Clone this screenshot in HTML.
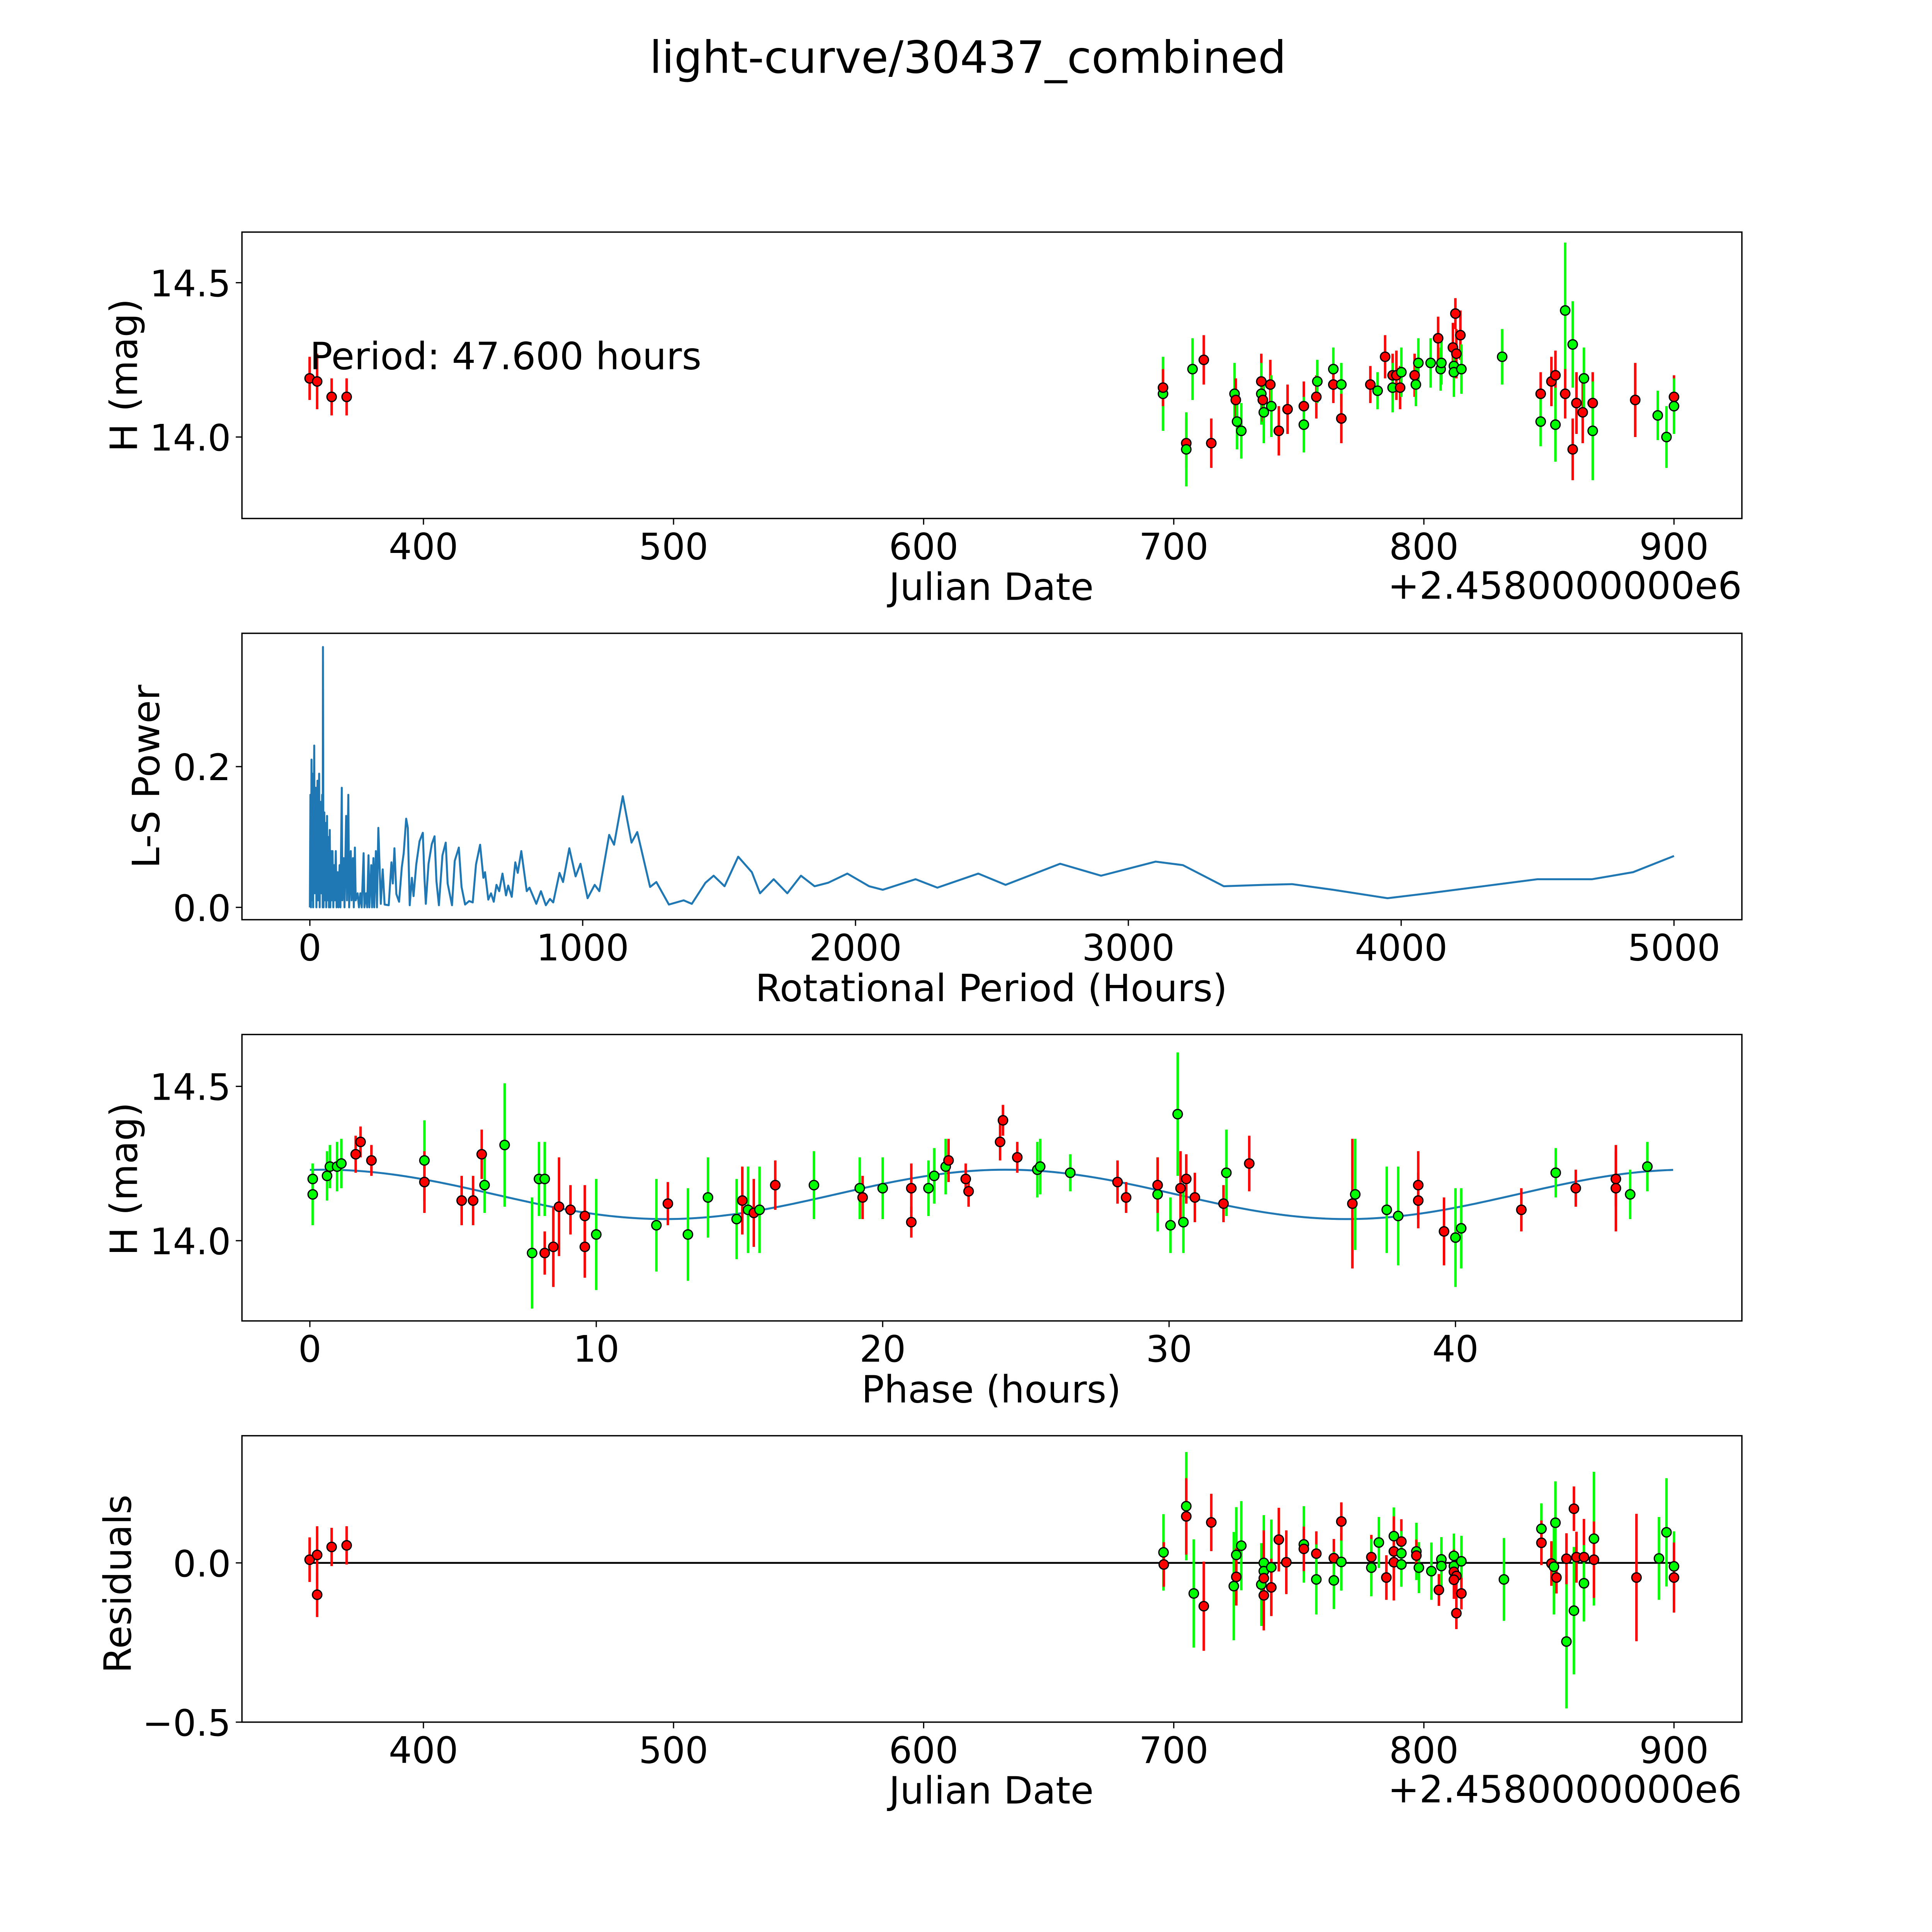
<!DOCTYPE html>
<html><head><meta charset="utf-8">
<style>
html,body{margin:0;padding:0;background:#fff;overflow:hidden;width:100%;height:100%;}
svg{display:block;position:absolute;left:0;top:0;width:100vw;height:100vh;font-family:"DejaVu Sans","Liberation Sans",sans-serif;}
</style></head>
<body>
<svg id="fig" viewBox="0 0 1565 1565" preserveAspectRatio="none" xmlns="http://www.w3.org/2000/svg">
<rect width="1565" height="1565" fill="#fff"/>
<text x="784" y="59" font-size="36" text-anchor="middle">light-curve/30437_combined</text>
<g id="g"></g>
</svg>
<script>
// observations: Julian date offset (days), magnitude, error, filter colour
const obsDates = [354.5,357.5,363.3,369.3,695.7,695.7,705,705,707.5,712,715,724.3,724.8,725.3,727,735,735,735.6,736,738.6,739,742,745.5,752,752,757,757.4,763.8,763.8,767,767,778.6,781.5,784.5,787.5,787.5,789,790.5,791,796.3,796.8,797.8,802.7,805.7,806.7,807,811.6,812,812.6,812,813,814.6,815,831.3,846.7,846.7,851,852.6,852.6,856.5,856.5,859.5,859.5,861,863.5,864,867.5,867.5,884.5,893.5,897,900,900];
const obsMags = [14.19,14.18,14.13,14.13,14.14,14.16,13.98,13.96,14.22,14.25,13.98,14.14,14.12,14.05,14.02,14.18,14.14,14.12,14.08,14.17,14.10,14.02,14.09,14.10,14.04,14.13,14.18,14.22,14.17,14.17,14.06,14.17,14.15,14.26,14.20,14.16,14.20,14.16,14.21,14.20,14.17,14.24,14.24,14.32,14.22,14.24,14.29,14.23,14.40,14.21,14.27,14.33,14.22,14.26,14.14,14.05,14.18,14.20,14.04,14.41,14.14,14.30,13.96,14.11,14.08,14.19,14.11,14.02,14.12,14.07,14.00,14.13,14.10];
const obsErrs = [0.07,0.09,0.06,0.06,0.12,0.06,0.08,0.12,0.10,0.08,0.08,0.10,0.07,0.09,0.09,0.09,0.10,0.07,0.10,0.08,0.10,0.08,0.08,0.08,0.09,0.07,0.07,0.07,0.06,0.07,0.08,0.06,0.06,0.07,0.07,0.08,0.08,0.07,0.08,0.07,0.07,0.08,0.08,0.07,0.07,0.07,0.08,0.07,0.05,0.08,0.08,0.08,0.08,0.09,0.07,0.08,0.08,0.08,0.12,0.22,0.08,0.14,0.10,0.10,0.10,0.10,0.10,0.16,0.12,0.08,0.10,0.07,0.09];
const obsColors = ['r','r','r','r','g','r','r','g','g','r','r','g','r','g','g','r','g','r','g','r','g','r','r','r','g','r','g','g','r','g','r','r','g','r','r','g','r','r','g','r','g','g','g','r','g','g','r','g','r','g','r','r','g','g','r','g','r','r','g','g','r','g','r','r','r','g','r','g','r','g','g','r','g'];
// folded light curve (phase hours, magnitude, error, filter)
const phPhases = [0.1,0.1,0.6,0.7,0.95,1.1,1.6,1.77,2.15,4.0,4.0,5.3,5.7,6.0,6.1,6.8,7.76,8.0,8.2,8.2,8.5,8.7,9.1,9.6,9.6,10.0,12.1,12.5,13.2,13.9,14.9,15.1,15.3,15.5,15.7,16.25,17.6,19.2,19.3,20.0,21.0,21.0,21.6,21.8,22.2,22.3,22.9,23.0,24.1,24.2,24.7,25.4,25.5,26.55,28.2,28.5,29.6,29.6,30.05,30.3,30.4,30.5,30.6,30.9,31.9,32.0,32.8,36.4,36.5,37.6,38.0,38.7,38.7,39.6,40.0,40.2,42.3,43.5,44.2,45.6,45.6,46.1,46.7];
const phMags = [14.20,14.15,14.21,14.24,14.24,14.25,14.28,14.32,14.26,14.26,14.19,14.13,14.13,14.28,14.18,14.31,13.96,14.20,14.20,13.96,13.98,14.11,14.10,14.08,13.98,14.02,14.05,14.12,14.02,14.14,14.07,14.13,14.10,14.09,14.10,14.18,14.18,14.17,14.14,14.17,14.17,14.06,14.17,14.21,14.24,14.26,14.20,14.16,14.32,14.39,14.27,14.23,14.24,14.22,14.19,14.14,14.15,14.18,14.05,14.41,14.17,14.06,14.20,14.14,14.12,14.22,14.25,14.12,14.15,14.10,14.08,14.18,14.13,14.03,14.01,14.04,14.10,14.22,14.17,14.20,14.17,14.15,14.24];
const phErrs = [0.05,0.10,0.08,0.07,0.08,0.08,0.06,0.05,0.05,0.13,0.10,0.08,0.08,0.08,0.09,0.20,0.18,0.12,0.12,0.07,0.13,0.16,0.08,0.10,0.10,0.18,0.15,0.07,0.15,0.13,0.13,0.11,0.14,0.11,0.14,0.08,0.11,0.10,0.07,0.10,0.08,0.05,0.09,0.09,0.09,0.07,0.05,0.05,0.06,0.05,0.05,0.09,0.09,0.06,0.07,0.05,0.12,0.09,0.09,0.20,0.12,0.10,0.08,0.08,0.06,0.14,0.09,0.21,0.18,0.14,0.16,0.11,0.09,0.11,0.16,0.13,0.07,0.08,0.06,0.09,0.14,0.08,0.08];
const phColors = ['g','g','g','g','g','g','r','r','r','g','r','r','r','r','g','g','g','g','g','r','r','r','r','r','r','g','g','r','g','g','g','r','g','r','g','r','g','g','r','g','r','r','g','g','g','r','r','r','r','r','r','g','g','g','r','r','g','r','g','g','r','g','r','r','r','g','r','r','g','g','g','r','r','r','g','g','r','g','r','r','r','g','g'];
// residuals (date, residual, error, filter)
const resDates = [354.5,357.5,357.5,363.3,369.3,695.9,696,705,705,708,712,715,724,725,725,727,735,736,736,736,736,739,739,742,745,752,752,757,757,764,764,767,767,779,779,782,785,788,788,788,791,791,791,797,797,798,803,806,807,807,812,812,812,813,812,813,815,815,832,847,847,851,852,852.6,853,857,857,860,860,861,864,864,868,868,885,894,897,900,900];
const resVals = [0.01,0.025,-0.10,0.05,0.055,0.033,-0.005,0.178,0.146,-0.096,-0.136,0.127,-0.073,0.025,-0.044,0.054,-0.068,0,-0.026,-0.048,-0.102,-0.014,-0.077,0.073,0.002,0.058,0.044,0.029,-0.052,0.015,-0.055,0.003,0.13,0.018,-0.015,0.064,-0.046,0.084,0.036,0.002,0.067,0.030,-0.005,0.036,0.023,-0.015,-0.026,-0.085,0.011,-0.01,0.022,-0.01,-0.028,-0.041,-0.053,-0.158,0.005,-0.096,-0.052,0.107,0.063,-0.002,-0.012,0.126,-0.046,-0.247,0.013,0.17,-0.15,0.018,0.018,-0.064,0.076,0.01,-0.046,0.014,0.096,-0.011,-0.046];
const resErrs = [0.07,0.09,0.07,0.06,0.06,0.12,0.07,0.17,0.12,0.17,0.14,0.09,0.17,0.15,0.09,0.14,0.13,0.15,0.12,0.15,0.11,0.15,0.09,0.10,0.10,0.12,0.07,0.07,0.11,0.06,0.09,0.09,0.06,0.07,0.09,0.08,0.07,0.09,0.11,0.12,0.07,0.07,0.07,0.09,0.05,0.08,0.09,0.05,0.07,0.07,0.07,0.09,0.07,0.07,0.06,0.05,0.08,0.05,0.13,0.08,0.07,0.07,0.15,0.13,0.05,0.21,0.08,0.07,0.20,0.08,0.12,0.12,0.21,0.12,0.20,0.13,0.17,0.11,0.11];
const resColors = ['r','r','r','r','r','g','r','g','r','g','r','r','g','g','r','g','g','g','g','r','r','g','r','r','r','g','r','r','g','r','g','g','r','r','g','g','r','g','r','r','r','g','g','g','r','g','g','r','g','g','g','g','r','r','r','r','g','r','g','g','r','r','g','g','r','g','r','r','g','r','r','g','g','r','r','g','g','g','r'];
// fit model
const period = 47.6, modelMean = 14.15, modelAmp = 0.08, modelPeak = 0.5;
// Lomb-Scargle periodogram (period hours, power)
const lsPeriods = [0,2,4,6,8,10,12,16,18,22,24,28,30,34,36,40,42,45,47,48,50,53,55,58,60,63,65,68,70,73,75,78,80,83,86,89,92,95,98,102,105,109,112,117,119,124,127,133,136,141,144,150,153,158,161,165,168,175,180,185,190,197,200,206,210,215,218,225,228,233,236,242,246,251,260,267,274,289,299,304,310,317,327,337,344,353,359,366,374,380,390,402,414,420,425,435,447,457,464,473,486,498,505,521,531,546,556,569,584,597,609,624,636,642,654,664,674,684,694,706,719,727,740,753,762,775,795,805,830,847,865,880,892,915,928,951,974,992,1018,1044,1061,1097,1115,1147,1179,1200,1247,1270,1316,1370,1400,1450,1480,1520,1570,1620,1650,1700,1750,1800,1850,1900,1970,2050,2100,2220,2300,2450,2550,2750,2900,3100,3200,3350,3500,3600,3750,3950,4100,4300,4500,4700,4850,5000];
const lsPower = [0,0.16,0,0.21,0.01,0.19,0,0.23,0.02,0.17,0,0.18,0.01,0.19,0,0.15,0.02,0.16,0,0.37,0,0.135,0.01,0.12,0,0.13,0.01,0.1,0,0.11,0,0.08,0.01,0.08,0,0.06,0.01,0.08,0,0.05,0,0.06,0,0.17,0.01,0.07,0,0.13,0.01,0.16,0,0.08,0.01,0.07,0,0.085,0.01,0.02,0,0.02,0,0.077,0,0.02,0,0.074,0,0.06,0,0.07,0,0.08,0,0.113,0.005,0.054,0.004,0.003,0.064,0.034,0.084,0.019,0.008,0.057,0.077,0.126,0.113,0.003,0.042,0.016,0.061,0.094,0.106,0.042,0.005,0.062,0.09,0.101,0.037,0.003,0.074,0.092,0.034,0.003,0.066,0.085,0.029,0.004,0.009,0.007,0.061,0.089,0.042,0.05,0.011,0.02,0.008,0.032,0.023,0.048,0.017,0.031,0.015,0.064,0.049,0.08,0.023,0.028,0.005,0.023,0.003,0.012,0.007,0.049,0.036,0.084,0.044,0.062,0.013,0.032,0.023,0.103,0.089,0.158,0.092,0.107,0.029,0.036,0.004,0.01,0.005,0.035,0.045,0.03,0.072,0.05,0.02,0.04,0.02,0.045,0.03,0.035,0.048,0.03,0.025,0.04,0.028,0.048,0.032,0.062,0.045,0.065,0.06,0.03,0.032,0.033,0.025,0.013,0.02,0.03,0.04,0.04,0.05,0.073];
const dateTicks = [400,500,600,700,800,900];
const lsTicks = [0,1000,2000,3000,4000,5000];
const phaseTicks = [0,10,20,30,40];

const NS='http://www.w3.org/2000/svg';
const G=document.getElementById('g');
function mk(tag,attrs,parent){const e=document.createElementNS(NS,tag);for(const k in attrs)e.setAttribute(k,attrs[k]);(parent||G).appendChild(e);return e;}
function lin(d0,d1,p0,p1){return v=>p0+(v-d0)*(p1-p0)/(d1-d0);}
const L=196,R=1411;
const TICK=29.5, LAB=30.5;
const xDate=lin(400,900,343,1356);
const xLS=lin(0,5000,251,1356);
const xPh=lin(0,40,251,1179);
const y1=lin(14.0,14.5,354,229);
const y2=lin(0,0.2,735,621);
const y3=lin(14.0,14.5,1005,880);
const y4=lin(0,-0.5,1266,1395);
const COL={r:'#ff0000',g:'#00ff00'};
function model(ph){return modelMean+modelAmp*Math.cos(2*Math.PI*(ph-modelPeak)/(period/2));}

function frame(top,bot,name){
  const r=mk('rect',{x:L,y:top,width:R-L,height:bot-top,fill:'none',stroke:'#000','stroke-width':1.1});
  
  
}
function xticks(ticks,sx,bot,name){
  ticks.forEach(t=>{const x=sx(t);
    mk('line',{x1:x,x2:x,y1:bot,y2:bot+5,stroke:'#000','stroke-width':1});
    const tx=mk('text',{x:x,y:bot+33,'font-size':TICK,'text-anchor':'middle'});tx.textContent=t;
    
    
  });
}
function yticks(ticks,sy,labels,name){
  ticks.forEach((t,i)=>{const y=sy(t);
    mk('line',{x1:L-5,x2:L,y1:y,y2:y,stroke:'#000','stroke-width':1});
    const tx=mk('text',{x:L-9,y:y+11,'font-size':TICK,'text-anchor':'end'});tx.textContent=labels[i];
    
    
  });
}
function label(txt,x,y,rot,name){
  const t=mk('text',{x:x,y:y,'font-size':LAB,'text-anchor':'middle',transform:rot?`rotate(-90 ${x} ${y})`:''});
  t.textContent=txt;
  
  
}
function points(xs,ys,errs,cols,sx,sy,name){
  const g=mk('g',{});
  
  
  xs.forEach((xv,i)=>{const x=sx(xv);
    mk('line',{x1:x,x2:x,y1:sy(ys[i]-errs[i]),y2:sy(ys[i]+errs[i]),stroke:COL[cols[i]],'stroke-width':2},g);});
  xs.forEach((xv,i)=>{
    const c=mk('circle',{cx:sx(xv),cy:sy(ys[i]),r:3.8,fill:COL[cols[i]],stroke:'#000','stroke-width':1},g);
    
    
  });
}

// Panel 1
frame(188,420,'lightcurve');
xticks(dateTicks,xDate,420,'lightcurve');
yticks([14.0,14.5],y1,['14.0','14.5'],'lightcurve');
label('Julian Date',803,486,false,'lightcurve-x-axis-title');
label('H (mag)',111,304,true,'lightcurve-y-axis-title');
let off=mk('text',{x:R,y:485,'font-size':LAB,'text-anchor':'end'});off.textContent='+2.4580000000e6';


points(obsDates,obsMags,obsErrs,obsColors,xDate,y1,'lightcurve-points');
let pl=mk('text',{x:251,y:299,'font-size':LAB});pl.textContent='Period: 47.600 hours';



// Panel 2
frame(513,745,'periodogram');
xticks(lsTicks,xLS,745,'periodogram');
yticks([0,0.2],y2,['0.0','0.2'],'periodogram');
label('Rotational Period (Hours)',803,811,false,'periodogram-x-axis-title');
label('L-S Power',129,629,true,'periodogram-y-axis-title');
const lsLine=mk('polyline',{points:lsPeriods.map((p,i)=>xLS(p)+','+y2(lsPower[i])).join(' '),fill:'none',stroke:'#1f77b4','stroke-width':1.6,'stroke-linejoin':'round'});



// Panel 3
frame(838,1070,'phase');
xticks(phaseTicks,xPh,1070,'phase');
yticks([14.0,14.5],y3,['14.0','14.5'],'phase');
label('Phase (hours)',803,1136,false,'phase-x-axis-title');
label('H (mag)',111,955,true,'phase-y-axis-title');
const mp=[];for(let i=0;i<=200;i++){const p=period*i/200;mp.push(xPh(p)+','+y3(model(p)));}
const ml=mk('polyline',{points:mp.join(' '),fill:'none',stroke:'#1f77b4','stroke-width':1.6});


points(phPhases,phMags,phErrs,phColors,xPh,y3,'phase-points');

// Panel 4
frame(1163,1395,'residuals');
xticks(dateTicks,xDate,1395,'residuals');
yticks([0,-0.5],y4,['0.0','\u22120.5'],'residuals');
label('Julian Date',803,1461,false,'residuals-x-axis-title');
label('Residuals',106,1283,true,'residuals-y-axis-title');
off=mk('text',{x:R,y:1460,'font-size':LAB,'text-anchor':'end'});off.textContent='+2.4580000000e6';


const zl=mk('line',{x1:xDate(354.5),x2:xDate(900),y1:y4(0),y2:y4(0),stroke:'#000','stroke-width':1.5});


points(resDates,resVals,resErrs,resColors,xDate,y4,'residual-points');
</script>
</body></html>
